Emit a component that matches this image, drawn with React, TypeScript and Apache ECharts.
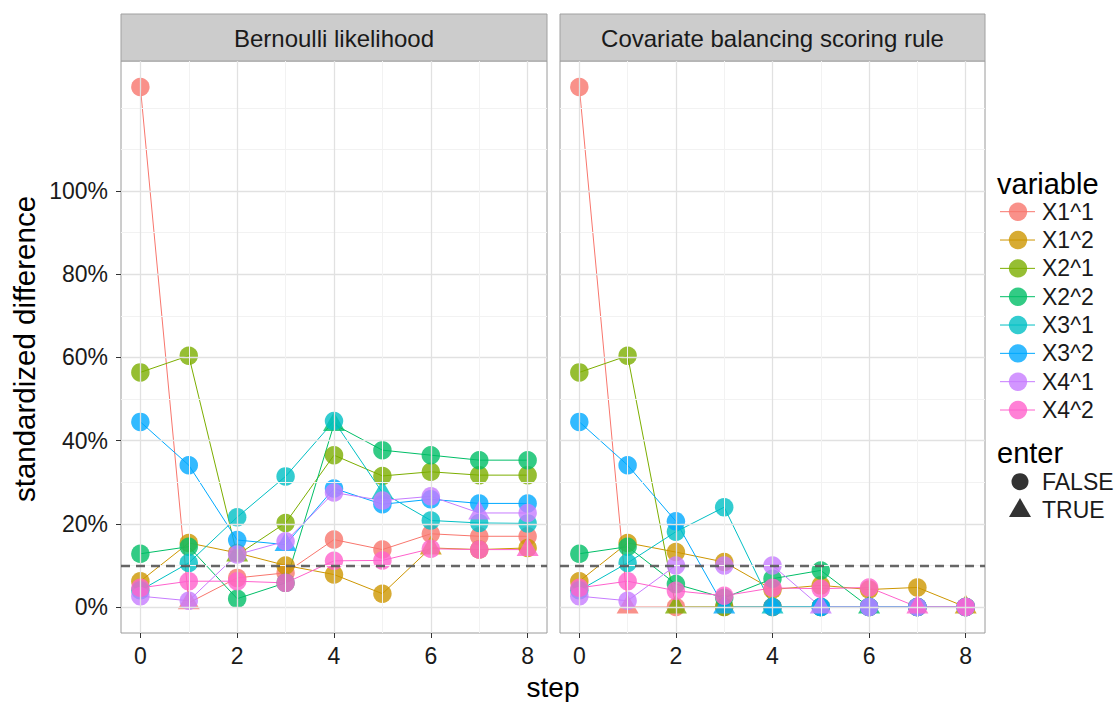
import React, { useEffect, useRef } from "react";
import * as echarts from "echarts";

const steps = [0, 1, 2, 3, 4, 5, 6, 7, 8];
const variables = ["X1^1", "X1^2", "X2^1", "X2^2", "X3^1", "X3^2", "X4^1", "X4^2"];
const colors = ["#F8766D", "#CD9600", "#7CAE00", "#00BE67", "#00BFC4", "#00A9FF", "#C77CFF", "#FF61CC"];
const panelTitles = ["Bernoulli likelihood", "Covariate balancing scoring rule"];
const yTicks = [0, 20, 40, 60, 80, 100];
const yMinor = [10, 30, 50, 70, 90, 110, 120];
const xTicks = [0, 2, 4, 6, 8];
const xMinor = [1, 3, 5, 7];
const threshold = 10;

// Bernoulli likelihood panel (values in %)
const bernX1_1 = [125, 1.0, 7.0, 8.2, 16.2, 13.8, 17.6, 17.0, 17.0];
const bernX1_2 = [6.2, 15.4, 13.0, 10.0, 7.8, 3.2, 14.2, 13.8, 14.2];
const bernX2_1 = [56.4, 60.4, 12.5, 20.2, 36.5, 31.5, 32.5, 31.7, 31.7];
const bernX2_2 = [12.8, 14.5, 2.0, 5.8, 43.9, 37.7, 36.5, 35.3, 35.3];
const bernX3_1 = [4.0, 10.6, 21.6, 31.4, 44.7, 27.5, 20.8, 20.2, 20.1];
const bernX3_2 = [44.5, 34.1, 16.1, 15.0, 28.5, 24.7, 25.9, 24.9, 24.9];
const bernX4_1 = [2.6, 1.5, 12.6, 15.8, 27.5, 25.6, 26.6, 22.6, 22.6];
const bernX4_2 = [4.6, 6.2, 6.2, 5.8, 11.1, 11.2, 14.0, 13.8, 13.8];
const bernEnterStep = [1, 6, 2, 4, 5, 3, 7, 8];

// Covariate balancing scoring rule panel (values in %)
const cbsrX1_1 = [125, 0, 0, 0, 0, 0, 0, 0, 0];
const cbsrX1_2 = [6.2, 15.4, 13.2, 10.8, 4.2, 5.2, 4.2, 4.7, 0];
const cbsrX2_1 = [56.4, 60.4, 0, 0, 0, 0, 0, 0, 0];
const cbsrX2_2 = [12.8, 14.5, 5.5, 2.2, 6.8, 8.8, 0, 0, 0];
const cbsrX3_1 = [4.0, 10.6, 18.1, 24.0, 0, 0, 0, 0, 0];
const cbsrX3_2 = [44.5, 34.1, 20.6, 0, 0, 0, 0, 0, 0];
const cbsrX4_1 = [2.6, 1.5, 10.0, 10.0, 10.0, 0, 0, 0, 0];
const cbsrX4_2 = [4.6, 6.2, 3.9, 2.7, 4.6, 4.4, 4.7, 0, 0];
const cbsrEnterStep = [1, 8, 2, 6, 4, 3, 5, 7];

const panelValues = [
  [bernX1_1, bernX1_2, bernX2_1, bernX2_2, bernX3_1, bernX3_2, bernX4_1, bernX4_2],
  [cbsrX1_1, cbsrX1_2, cbsrX2_1, cbsrX2_2, cbsrX3_1, cbsrX3_2, cbsrX4_1, cbsrX4_2],
];
const panelEnter = [bernEnterStep, cbsrEnterStep];

const FONT = "'Liberation Sans', Arial, Helvetica, sans-serif";
const TEXT = "#1a1a1a";
const GRIDS = [
  { left: 121, top: 61, width: 426, height: 572 },
  { left: 560, top: 61, width: 425, height: 572 },
];

export default function App() {
  const ref = useRef<HTMLDivElement>(null);
  useEffect(() => {
    if (!ref.current) return;
    const chart = echarts.init(ref.current, undefined, { renderer: "svg" });

    const series: any[] = [];
    for (let p = 0; p < 2; p++) {
      const gridLines: any[] = [];
      yTicks.forEach((v) => gridLines.push({ yAxis: v, lineStyle: { color: "#e1e1e1", width: 1.3, type: "solid" } }));
      yMinor.forEach((v) => gridLines.push({ yAxis: v, lineStyle: { color: "#f2f2f2", width: 1, type: "solid" } }));
      xTicks.forEach((v) => gridLines.push({ xAxis: v, lineStyle: { color: "#e1e1e1", width: 1.3, type: "solid" } }));
      xMinor.forEach((v) => gridLines.push({ xAxis: v, lineStyle: { color: "#f2f2f2", width: 1, type: "solid" } }));
      series.push({
        type: "line",
        name: "grid" + p,
        xAxisIndex: p,
        yAxisIndex: p,
        data: [],
        silent: true,
        z: 1,
        markLine: { silent: true, symbol: ["none", "none"], label: { show: false }, data: gridLines, animation: false },
      });
      variables.forEach((name, v) => {
        const vals = panelValues[p][v];
        const enter = panelEnter[p][v];
        series.push({
          type: "line",
          name,
          xAxisIndex: p,
          yAxisIndex: p,
          z: 3,
          showSymbol: true,
          symbol: "circle",
          symbolSize: 18.5,
          lineStyle: { color: colors[v], width: 1 },
          itemStyle: { color: colors[v], opacity: 0.8 },
          emphasis: { disabled: true },
          data: steps.map((s, i) => {
            const tri = s === enter;
            return {
              value: [s, vals[i]],
              symbol: tri ? "triangle" : "circle",
              symbolSize: tri ? [22, 19] : 18.5,
              symbolOffset: tri ? [0, -3] : [0, 0],
            };
          }),
        });
      });
      series.push({
        type: "line",
        name: "threshold" + p,
        xAxisIndex: p,
        yAxisIndex: p,
        data: [],
        silent: true,
        z: 5,
        markLine: {
          silent: true,
          z: 10,
          symbol: ["none", "none"],
          label: { show: false },
          data: [{ yAxis: threshold, lineStyle: { color: "#555", width: 2.3, opacity: 0.9, type: [9, 6] } }],
        },
      });
    }

    const graphic: any[] = [];
    GRIDS.forEach((g, p) => {
      graphic.push({
        type: "rect",
        shape: { x: g.left, y: 14, width: g.width, height: 47 },
        style: { fill: "#cccccc", stroke: "#a0a0a0", lineWidth: 1 },
      });
      graphic.push({
        type: "text",
        x: g.left + g.width / 2,
        y: 38,
        style: { text: panelTitles[p], fontSize: 24, fontFamily: FONT, fill: TEXT, align: "center", verticalAlign: "middle" },
      });
    });
    graphic.push({
      type: "text",
      x: 553,
      y: 687,
      style: { text: "step", fontSize: 28, fontFamily: FONT, fill: "#000", align: "center", verticalAlign: "middle" },
    });
    graphic.push({
      type: "text",
      x: 24,
      y: 349,
      rotation: Math.PI / 2,
      style: { text: "standardized difference", fontSize: 29.5, fontFamily: FONT, fill: "#000", align: "center", verticalAlign: "middle" },
    });
    // legend: variable
    graphic.push({
      type: "text",
      x: 997,
      y: 184,
      style: { text: "variable", fontSize: 29, fontFamily: FONT, fill: "#000", align: "left", verticalAlign: "middle" },
    });
    variables.forEach((name, v) => {
      const cy = 211.7 + v * 28.33;
      graphic.push({ type: "line", shape: { x1: 1000, y1: cy, x2: 1035, y2: cy }, style: { stroke: colors[v], lineWidth: 1 } });
      graphic.push({ type: "circle", shape: { cx: 1018, cy, r: 9.2 }, style: { fill: colors[v], opacity: 0.8 } });
      graphic.push({
        type: "text",
        x: 1042,
        y: cy,
        style: { text: name, fontSize: 23, fontFamily: FONT, fill: TEXT, align: "left", verticalAlign: "middle" },
      });
    });
    // legend: enter
    graphic.push({
      type: "text",
      x: 997,
      y: 453,
      style: { text: "enter", fontSize: 29, fontFamily: FONT, fill: "#000", align: "left", verticalAlign: "middle" },
    });
    graphic.push({ type: "circle", shape: { cx: 1020, cy: 481.7, r: 8.5 }, style: { fill: "#333" } });
    graphic.push({
      type: "text",
      x: 1042,
      y: 481.7,
      style: { text: "FALSE", fontSize: 23, fontFamily: FONT, fill: TEXT, align: "left", verticalAlign: "middle" },
    });
    graphic.push({
      type: "polygon",
      shape: { points: [[1020, 498], [1031, 517], [1009, 517]] },
      style: { fill: "#333" },
    });
    graphic.push({
      type: "text",
      x: 1042,
      y: 510,
      style: { text: "TRUE", fontSize: 23, fontFamily: FONT, fill: TEXT, align: "left", verticalAlign: "middle" },
    });

    chart.setOption({
      animation: false,
      textStyle: { fontFamily: FONT },
      grid: GRIDS.map((g) => ({
        ...g,
        show: true,
        backgroundColor: "#fff",
        borderColor: "#9a9a9a",
        borderWidth: 1,
        containLabel: false,
      })),
      xAxis: GRIDS.map((_, p) => ({
        type: "value",
        gridIndex: p,
        min: -0.4,
        max: 8.4,
        splitLine: { show: false },
        minorSplitLine: { show: false },
        axisLine: { show: false, onZero: false },
        axisTick: { show: true, customValues: xTicks, length: 5, lineStyle: { color: "#333", width: 1 } },
        axisLabel: { customValues: xTicks, fontSize: 23, color: TEXT, margin: 11, fontFamily: FONT },
      })),
      yAxis: GRIDS.map((_, p) => ({
        type: "value",
        gridIndex: p,
        min: -6.25,
        max: 131.25,
        splitLine: { show: false },
        axisLine: { show: false, onZero: false },
        axisTick: { show: p === 0, customValues: yTicks, length: 5, lineStyle: { color: "#333", width: 1 } },
        axisLabel: {
          show: p === 0,
          customValues: yTicks,
          formatter: "{value}%",
          fontSize: 23,
          color: TEXT,
          margin: 13,
          fontFamily: FONT,
        },
      })),
      series,
      graphic,
    });
    return () => chart.dispose();
  }, []);
  return <div ref={ref} style={{ position: "absolute", left: 0, top: 0, width: 1117, height: 702 }} />;
}
